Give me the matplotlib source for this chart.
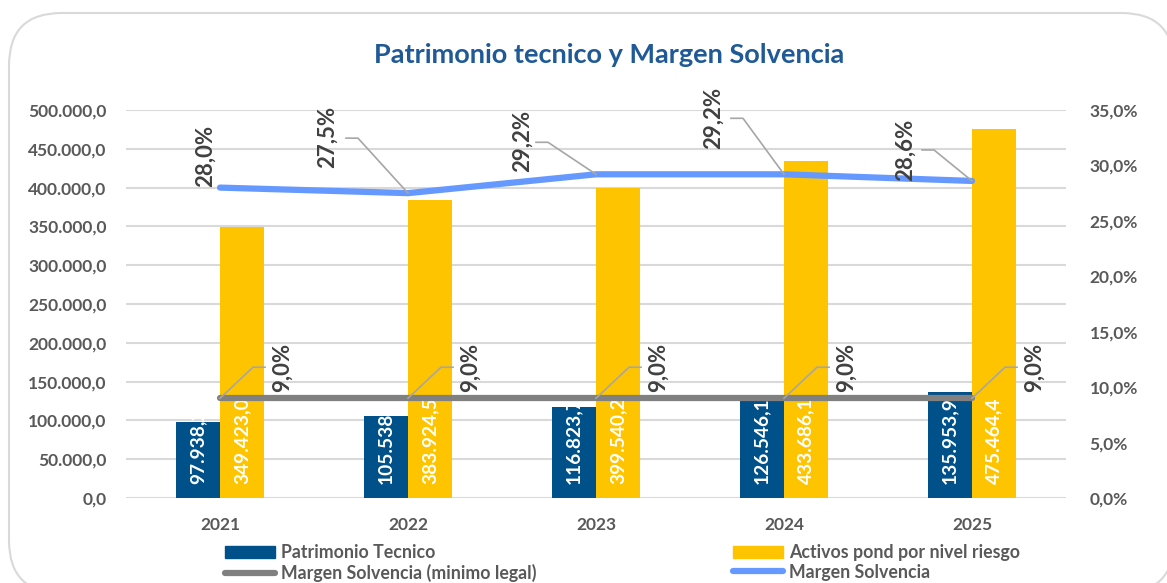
import matplotlib
matplotlib.use("Agg")
import matplotlib.pyplot as plt
from matplotlib.patches import FancyBboxPatch, Patch
from matplotlib.lines import Line2D
import numpy as np

plt.rcParams['font.family'] = ['Lato', 'DejaVu Sans']

years = ["2021", "2022", "2023", "2024", "2025"]
patrimonio = [97938.2, 105538.8, 116823.7, 126546.1, 135953.9]
activos = [349423.0, 383924.5, 399540.2, 433686.1, 475464.4]
margen = [28.0, 27.5, 29.2, 29.2, 28.6]
margen_min = [9.0, 9.0, 9.0, 9.0, 9.0]

# label placement for Margen Solvencia (px offsets from the point: label centre, leader elbow)
m_lab = [(-15, -32), (-81, -56), (-74, -33), (-71, -56), (-67, -31)]
m_lead = [None, (-50, -55), (-48, -32), (-41, -56), (-38, -31)]

BLUE = "#00518A"
GOLD = "#FFC400"
LBLUE = "#6699FF"
GRAY = "#808080"
TXT = "#595959"
LEAD = "#A6A6A6"


def fmt_es(v, dec=1):
    s = f"{v:,.{dec}f}"
    return s.replace(",", "X").replace(".", ",").replace("X", ".")


W, H = 1167, 583
fig = plt.figure(figsize=(W / 100, H / 100), dpi=100)

# rounded chart frame
frame = FancyBboxPatch((9 / W, -10 / H), 1165 / W, 583 / H - 3 / H,
                       boxstyle="round,pad=0,rounding_size=0.045",
                       transform=fig.transFigure, facecolor="white",
                       edgecolor="#D9D9D9", lw=1.5, mutation_aspect=W / H, zorder=-5)
fig.patches.append(frame)

ax = fig.add_axes([126 / W, 1 - 498 / H, 940 / W, 388 / H])
ax.set_facecolor("none")
x = np.arange(len(years))
bw = 0.235
b1 = ax.bar(x - bw / 2, patrimonio, bw, color=BLUE, zorder=2)
b2 = ax.bar(x + bw / 2, activos, bw, color=GOLD, zorder=2)
ax.set_xlim(-0.5, len(years) - 0.5)
ax.set_ylim(0, 500000)
ax.set_yticks(np.arange(0, 500001, 50000))
ax.set_yticklabels([fmt_es(v) for v in np.arange(0, 500001, 50000)])
ax.set_xticks(x)
ax.set_xticklabels(years)
ax.grid(axis="y", color="#D9D9D9", lw=1.5, zorder=0)
ax.set_axisbelow(True)
for s in ax.spines.values():
    s.set_visible(False)
ax.tick_params(length=0, labelsize=12.5, labelcolor=TXT, pad=14)
ax.tick_params(axis="x", pad=14)
for t in ax.get_yticklabels() + ax.get_xticklabels():
    t.set_fontweight("bold")

for xi, v in zip(x, patrimonio):
    ax.annotate(fmt_es(v), (xi - bw / 2, 0), xytext=(0, 14), textcoords="offset pixels",
                rotation=90, ha="center", va="bottom", color="white",
                fontsize=13.8, fontweight="bold", zorder=3)
for xi, v in zip(x, activos):
    ax.annotate(fmt_es(v), (xi + bw / 2, 0), xytext=(0, 14), textcoords="offset pixels",
                rotation=90, ha="center", va="bottom", color="white",
                fontsize=13.8, fontweight="bold", zorder=3)

ax2 = ax.twinx()
ax2.set_ylim(0, 35)
ax2.set_yticks(np.arange(0, 35.1, 5))
ax2.set_yticklabels([fmt_es(v) + "%" for v in np.arange(0, 35.1, 5)])
for s in ax2.spines.values():
    s.set_visible(False)
ax2.tick_params(length=0, labelsize=12.5, labelcolor=TXT, pad=17)
for t in ax2.get_yticklabels():
    t.set_fontweight("bold")

ax2.plot(x, margen_min, color=GRAY, lw=4.5, solid_capstyle="round", zorder=4)
ax2.plot(x, margen, color=LBLUE, lw=4.5, solid_capstyle="round", zorder=5)

fig.canvas.draw()
inv = fig.transFigure.inverted()


def px(xd, yd):
    return ax2.transData.transform((xd, yd))


# Margen Solvencia labels
for xi, v, lab, lead in zip(x, margen, m_lab, m_lead):
    p = px(xi, v)
    c = np.array([p[0] + lab[0], p[1] - lab[1]])
    fig.text(*inv.transform(c), fmt_es(v) + "%", rotation=90, ha="center", va="center",
             color="#404040", fontsize=16, fontweight="bold")
    if lead is not None:
        e = np.array([p[0] + lead[0], p[1] - lead[1]])
        s0 = np.array([e[0] - 12, e[1]])
        pts = inv.transform(np.array([s0, e, p]))
        fig.add_artist(Line2D(pts[:, 0], pts[:, 1], transform=fig.transFigure,
                              color=LEAD, lw=1.2, zorder=6))

# minimo legal labels
for xi, v in zip(x, margen_min):
    p = px(xi, v)
    c = np.array([p[0] + 62, p[1] + 31])
    fig.text(*inv.transform(c), fmt_es(v) + "%", rotation=90, ha="center", va="center",
             color="#404040", fontsize=16, fontweight="bold")
    e = np.array([p[0] + 33, p[1] + 31])
    s1 = np.array([p[0] + 45, p[1] + 31])
    pts = inv.transform(np.array([p, e, s1]))
    fig.add_artist(Line2D(pts[:, 0], pts[:, 1], transform=fig.transFigure,
                          color=LEAD, lw=1.2, zorder=6))

fig.text(609 / W, 1 - 55 / H, "Patrimonio tecnico y Margen Solvencia", ha="center",
         va="center", fontsize=19.5, fontweight="bold", color="#1F5A96")

leg_kw = dict(frameon=False, fontsize=12.8, handlelength=2.8, handletextpad=0.35,
              labelspacing=0.15, borderpad=0, borderaxespad=0, labelcolor=TXT)
h1 = [Patch(color=BLUE), Line2D([], [], color=GRAY, lw=4.5, solid_capstyle="round")]
l1 = ["Patrimonio Tecnico", "Margen Solvencia (minimo legal)"]
h2 = [Patch(color=GOLD), Line2D([], [], color=LBLUE, lw=4.5, solid_capstyle="round")]
l2 = ["Activos pond por nivel riesgo", "Margen Solvencia"]
lg1 = fig.legend(h1, l1, loc="upper left", bbox_to_anchor=(225 / W, 1 - 544 / H), **leg_kw)
lg2 = fig.legend(h2, l2, loc="upper left", bbox_to_anchor=(733 / W, 1 - 544 / H), **leg_kw)
for lg in (lg1, lg2):
    for t in lg.get_texts():
        t.set_fontweight("bold")

fig.savefig("out.png", dpi=100)
